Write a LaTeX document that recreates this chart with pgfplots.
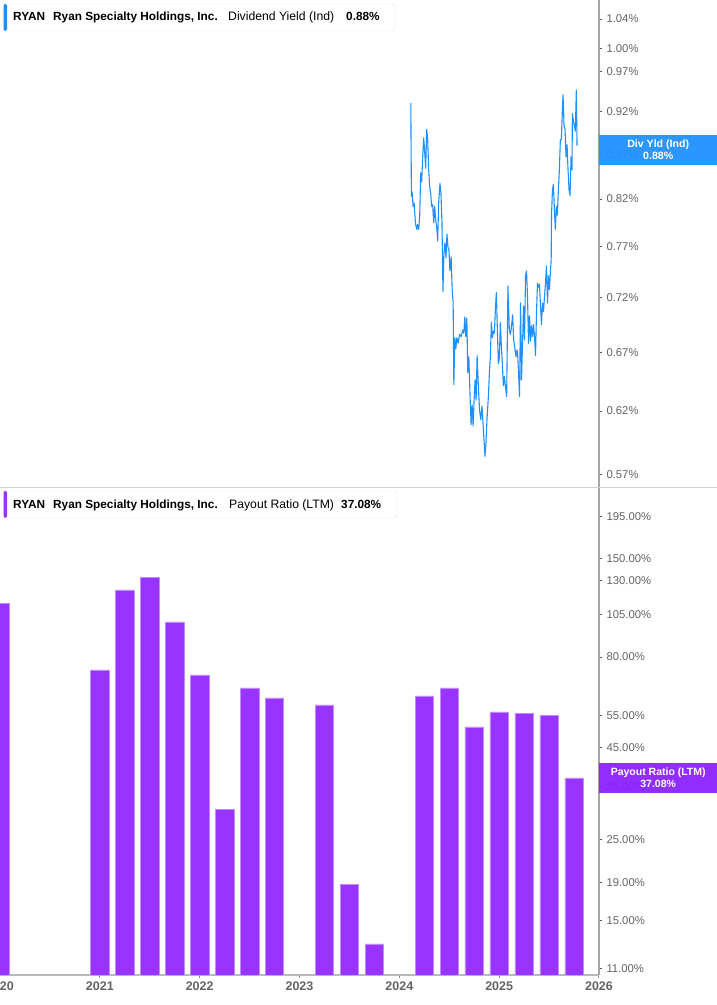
\documentclass[border=0pt]{standalone}
\usepackage{fontspec}
\setmainfont{Liberation Sans}
\usepackage{pgfplots}
\usepackage{pgfplotstable}
\pgfplotsset{compat=1.18}

\definecolor{yldblue}{RGB}{30,144,255}
\definecolor{payviolet}{RGB}{153,51,255}
\definecolor{payedge}{RGB}{190,140,255}
\definecolor{paybox}{RGB}{140,32,255}
\definecolor{axgray}{RGB}{165,165,165}
\definecolor{ticktext}{RGB}{100,100,100}
\definecolor{legendedge}{RGB}{228,228,228}

% dividend yield (Ind), in %
\pgfplotstableread{
year yield
2024.115 0.931
2024.121 0.823
2024.128 0.828
2024.138 0.812
2024.148 0.816
2024.161 0.795
2024.174 0.788
2024.184 0.793
2024.194 0.788
2024.204 0.802
2024.214 0.849
2024.224 0.839
2024.234 0.867
2024.244 0.889
2024.254 0.873
2024.264 0.854
2024.274 0.899
2024.284 0.887
2024.294 0.852
2024.304 0.834
2024.314 0.826
2024.324 0.812
2024.334 0.814
2024.344 0.795
2024.354 0.812
2024.364 0.798
2024.374 0.791
2024.384 0.776
2024.394 0.816
2024.407 0.837
2024.417 0.826
2024.427 0.795
2024.437 0.726
2024.447 0.764
2024.457 0.774
2024.467 0.759
2024.477 0.783
2024.487 0.770
2024.497 0.767
2024.507 0.746
2024.519 0.760
2024.529 0.728
2024.539 0.715
2024.546 0.642
2024.556 0.683
2024.566 0.673
2024.576 0.683
2024.589 0.678
2024.603 0.686
2024.619 0.684
2024.636 0.690
2024.646 0.687
2024.656 0.702
2024.666 0.684
2024.676 0.701
2024.686 0.652
2024.696 0.666
2024.709 0.631
2024.719 0.609
2024.729 0.625
2024.739 0.608
2024.749 0.629
2024.759 0.646
2024.769 0.629
2024.779 0.667
2024.789 0.646
2024.803 0.621
2024.816 0.613
2024.828 0.624
2024.838 0.610
2024.848 0.597
2024.858 0.584
2024.868 0.595
2024.878 0.613
2024.892 0.632
2024.902 0.652
2024.912 0.666
2024.922 0.697
2024.932 0.683
2024.942 0.689
2024.952 0.687
2024.962 0.709
2024.972 0.725
2024.982 0.690
2024.992 0.660
2025.002 0.665
2025.012 0.697
2025.022 0.675
2025.032 0.660
2025.042 0.641
2025.052 0.649
2025.062 0.641
2025.075 0.632
2025.088 0.731
2025.102 0.690
2025.112 0.686
2025.122 0.692
2025.135 0.704
2025.145 0.681
2025.155 0.675
2025.168 0.666
2025.178 0.672
2025.184 0.670
2025.194 0.652
2025.204 0.632
2025.214 0.715
2025.224 0.646
2025.234 0.678
2025.244 0.712
2025.254 0.681
2025.264 0.741
2025.274 0.746
2025.284 0.721
2025.294 0.678
2025.304 0.703
2025.314 0.680
2025.324 0.694
2025.334 0.684
2025.344 0.695
2025.354 0.684
2025.364 0.667
2025.374 0.706
2025.384 0.734
2025.394 0.730
2025.404 0.733
2025.414 0.712
2025.424 0.695
2025.434 0.715
2025.444 0.707
2025.454 0.721
2025.464 0.734
2025.474 0.751
2025.484 0.715
2025.494 0.741
2025.504 0.728
2025.514 0.746
2025.521 0.757
2025.524 0.802
2025.534 0.830
2025.543 0.836
2025.553 0.810
2025.563 0.788
2025.573 0.812
2025.583 0.803
2025.593 0.830
2025.603 0.852
2025.613 0.887
2025.623 0.887
2025.633 0.922
2025.640 0.941
2025.650 0.903
2025.660 0.899
2025.670 0.867
2025.680 0.881
2025.690 0.852
2025.700 0.830
2025.710 0.824
2025.720 0.867
2025.730 0.852
2025.733 0.918
2025.743 0.910
2025.753 0.903
2025.763 0.897
2025.773 0.947
2025.780 0.880
}\yieldtable

% payout ratio (LTM), in %
\pgfplotstableread{
year ratio
2020.00 112.8
2021.00 73.7
2021.25 122.6
2021.50 133.0
2021.75 100.0
2022.00 71.4
2022.25 30.4
2022.50 65.7
2022.75 61.7
2023.25 59.0
2023.50 18.8
2023.75 12.9
2024.25 62.5
2024.50 65.7
2024.75 51.3
2025.00 56.4
2025.25 56.0
2025.50 55.3
2025.75 37.08
}\payouttable

\begin{document}
\begin{tikzpicture}
\useasboundingbox (0pt,0pt) rectangle (717pt,1005pt);
\fill[white] (0pt,0pt) rectangle (717pt,1005pt);

\begin{axis}[
  ymode=log,
  anchor=south west, at={(0pt,517pt)},
  width=599pt, height=488pt, scale only axis,
  xmin=2020, xmax=2026,
  ymin=0.5601, ymax=1.0664,
  axis x line=none,
  axis y line*=right,
  y axis line style={draw=axgray, line width=1.2pt},
  tick align=outside, major tick length=3pt,
  y tick style={draw=black!65, line width=1pt},
  minor y tick style={draw=none},
  yticklabel style={font=\fontsize{11.3}{13}\selectfont, text=ticktext, xshift=1pt},
  clip mode=individual,
  ytick={0.57,0.62,0.67,0.72,0.77,0.82,0.87,0.92,0.97,1.00,1.04},
  yticklabels={0.57\%,0.62\%,0.67\%,0.72\%,0.77\%,0.82\%,0.87\%,0.92\%,0.97\%,1.00\%,1.04\%},
]
\addplot[yldblue, line width=1.1pt, line join=round] table[x=year, y=yield] {\yieldtable};
\node[fill=yldblue, fill opacity=0.94, text opacity=1, text=white, anchor=west,
  minimum width=118pt, minimum height=30pt, inner sep=0pt, align=center,
  font=\bfseries\fontsize{10.6}{12}\selectfont, yshift=-4pt]
  at (axis cs:2026,0.88) {Div Yld (Ind)\\0.88\%};
\end{axis}

\begin{axis}[
  ymode=log,
  anchor=south west, at={(0pt,30pt)},
  width=599pt, height=487pt, scale only axis,
  xmin=2020, xmax=2026,
  ymin=10.58, ymax=234.5,
  axis x line*=bottom,
  axis y line*=right,
  y axis line style={draw=axgray, line width=1.2pt},
  x axis line style={draw=black!28, line width=2pt},
  tick align=outside, major tick length=3pt,
  y tick style={draw=black!65, line width=1pt},
  x tick style={draw=black!45, line width=1pt},
  minor y tick style={draw=none},
  yticklabel style={font=\fontsize{11.3}{13}\selectfont, text=ticktext, xshift=1pt},
  clip mode=individual,
  xtick={2020,2021,2022,2023,2024,2025,2026},
  xticklabels={2020,2021,2022,2023,2024,2025,2026},
  xticklabel style={font=\bfseries\fontsize{12.5}{14}\selectfont, text=ticktext},
  ytick={11,15,19,25,35,45,55,80,105,130,150,195},
  yticklabels={11.00\%,15.00\%,19.00\%,25.00\%,35.00\%,45.00\%,55.00\%,80.00\%,105.00\%,130.00\%,150.00\%,195.00\%},
]
\addplot[ybar, bar width=0.185, fill=payviolet, draw=payedge, line width=0.6pt]
  table[x=year, y=ratio] {\payouttable};
\node[fill=paybox, fill opacity=0.94, text opacity=1, text=white, anchor=west,
  minimum width=118pt, minimum height=30pt, inner sep=0pt, align=center,
  font=\bfseries\fontsize{10.5}{12}\selectfont]
  at (axis cs:2026,37.08) {Payout Ratio (LTM)\\37.08\%};
\end{axis}

% panel separator
\draw[black!18, line width=1pt] (0pt,517pt) -- (717pt,517pt);

% legend boxes
\draw[legendedge, fill=white, rounded corners=3pt] (4pt,974pt) rectangle (395pt,1001pt);
\fill[yldblue, rounded corners=1.5pt] (3.5pt,974pt) rectangle (7pt,1001pt);
\node[anchor=base west, inner sep=0pt, font=\bfseries\fontsize{11.8}{14}\selectfont] at (13pt,984.3pt) {RYAN};
\node[anchor=base west, inner sep=0pt, font=\bfseries\fontsize{11.8}{14}\selectfont] at (53pt,984.3pt) {Ryan Specialty Holdings, Inc.};
\node[anchor=base west, inner sep=0pt, font=\fontsize{12.2}{14}\selectfont] at (228pt,984.3pt) {Dividend Yield (Ind)};
\node[anchor=base west, inner sep=0pt, font=\bfseries\fontsize{11.8}{14}\selectfont] at (346pt,984.3pt) {0.88\%};

\draw[legendedge, fill=white, rounded corners=3pt] (4pt,487pt) rectangle (397pt,514pt);
\fill[payviolet, rounded corners=1.5pt] (3.5pt,487pt) rectangle (7pt,514pt);
\node[anchor=base west, inner sep=0pt, font=\bfseries\fontsize{11.8}{14}\selectfont] at (13pt,496.5pt) {RYAN};
\node[anchor=base west, inner sep=0pt, font=\bfseries\fontsize{11.8}{14}\selectfont] at (53pt,496.5pt) {Ryan Specialty Holdings, Inc.};
\node[anchor=base west, inner sep=0pt, font=\fontsize{12.2}{14}\selectfont] at (229pt,496.5pt) {Payout Ratio (LTM)};
\node[anchor=base west, inner sep=0pt, font=\bfseries\fontsize{11.8}{14}\selectfont] at (341pt,496.5pt) {37.08\%};
\end{tikzpicture}
\end{document}
